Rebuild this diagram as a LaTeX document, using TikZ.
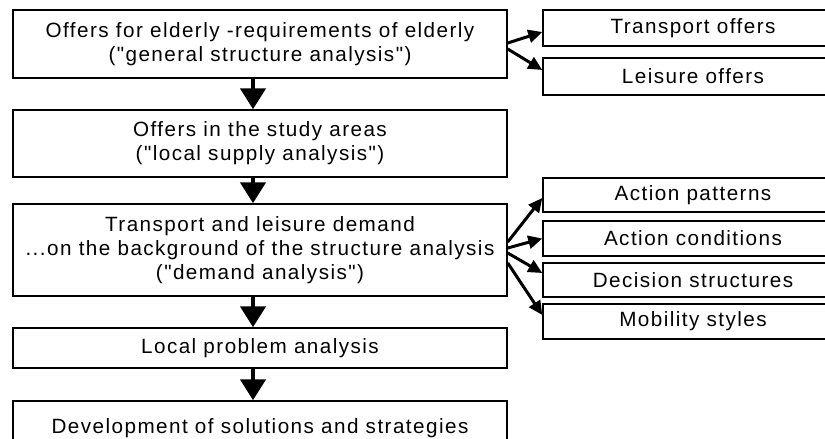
\documentclass[tikz,border=0pt]{standalone}
\usepackage{fontspec}
\usepackage{tikz}
\usetikzlibrary{arrows.meta}
\newfontfamily\boxfont{Liberation Sans}[LetterSpace=7]
\newcommand{\stagefont}{\boxfont\fontsize{15.5pt}{18pt}\selectfont}
\tikzset{
  stage/.style={draw, line width=1.1pt, minimum width=370.5pt, inner sep=0pt,
    align=center, font=\stagefont},
  topic/.style={draw, line width=1.1pt, minimum width=225pt, inner sep=0pt,
    font=\stagefont},
  flow/.style={line width=3.4pt, -{Triangle[width=18.75pt,length=15.75pt]}},
  branch/.style={line width=2.25pt, -{Triangle[width=9.75pt,length=10.5pt]}}
}

\begin{document}
\begin{tikzpicture}[x=0.75pt,y=-0.75pt]
  \useasboundingbox (0,0) rectangle (825,439);
  \clip (0,0) rectangle (825,439);

  % main chain of analysis steps
  \node[stage,minimum height=51pt] (elderly) at (260,44)
    {Offers for elderly -requirements of elderly\\("general structure analysis")};
  \node[stage,minimum height=50.25pt] (supply) at (260,143.5)
    {Offers in the study areas\\("local supply analysis")};
  \node[stage,minimum height=69pt] (demand) at (260,250)
    {Transport and leisure demand\\...on the background of the structure analysis\\("demand analysis")};
  \node[stage,minimum height=30pt] (problem) at (260,348) {Local problem analysis};
  \node[stage,minimum height=40.5pt] (solution) at (260,428)
    {Development of solutions and strategies};

  % side topics
  \node[topic,minimum height=27pt] (transport) at (693,28) {Transport offers};
  \node[topic,minimum height=27.75pt] (leisure) at (693,76.5) {Leisure offers};
  \node[topic,minimum height=25.5pt] (patterns) at (693,195) {Action patterns};
  \node[topic,minimum height=26.25pt] (conditions) at (693,238.5) {Action conditions};
  \node[topic,minimum height=25.5pt] (decision) at (693,280) {Decision structures};
  \node[topic,minimum height=26.25pt] (mobility) at (693,321.5) {Mobility styles};

  \draw[flow] ([xshift=-5.25pt]elderly.south) -- ([xshift=-5.25pt]supply.north);
  \draw[flow] ([xshift=-5.25pt]supply.south) -- ([xshift=-5.25pt]demand.north);
  \draw[flow] ([xshift=-5.25pt]demand.south) -- ([xshift=-5.25pt]problem.north);
  \draw[flow] ([xshift=-5.25pt]problem.south) -- ([xshift=-5.25pt]solution.north);

  \draw[branch] ([yshift=0.75pt]elderly.east) -- ([yshift=-3pt]transport.west);
  \draw[branch] ([yshift=-3.75pt]elderly.east) -- ([yshift=4.875pt]leisure.west);

  \draw[branch] ([yshift=6pt]demand.east) -- ([yshift=-2.25pt]patterns.west);
  \draw[branch] ([yshift=1.5pt]demand.east) -- (conditions.west);
  \draw[branch] ([yshift=-2.25pt]demand.east) -- ([yshift=5.25pt]decision.west);
  \draw[branch] ([yshift=-9.75pt]demand.east) -- ([yshift=4.875pt]mobility.west);
\end{tikzpicture}
\end{document}
